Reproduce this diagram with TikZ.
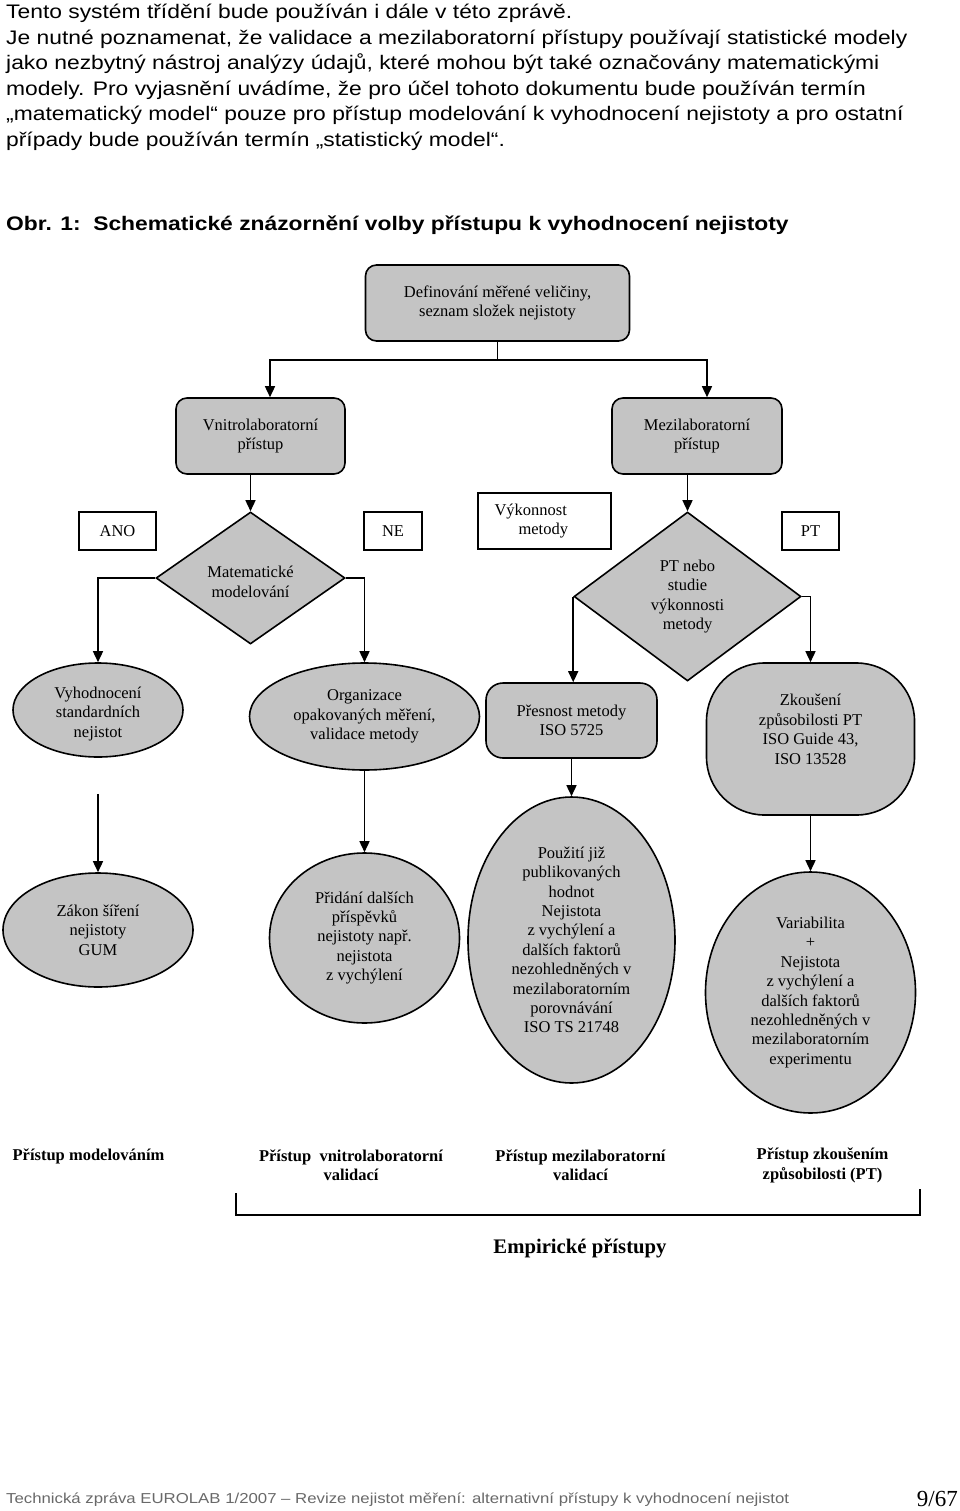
\documentclass[tikz,border=0pt]{standalone}
\usepackage{fontspec}
\setmainfont{Liberation Serif}
\newfontfamily\arialx[FakeStretch=1.165]{Liberation Sans}
\usetikzlibrary{shapes.geometric,arrows.meta}
\definecolor{shapefill}{RGB}{196,196,196}
\definecolor{footgray}{RGB}{105,105,105}
\tikzset{
  every node/.style={font=\fontsize{16.5}{19.4}\selectfont, align=center, inner sep=0pt},
  para/.style={anchor=base west, font=\arialx\fontsize{19.6}{25.5}\selectfont},
  rbox/.style={draw, line width=1.6pt, fill=shapefill, rectangle},
  lbox/.style={draw, line width=1.4pt, fill=white, rectangle},
  oval/.style={draw, line width=1.6pt, fill=shapefill, ellipse},
  dia/.style={draw, line width=1.6pt, fill=shapefill, diamond},
  arr/.style={line width=1.5pt, -{Triangle[length=11pt,width=10pt]}},
  blab/.style={font=\bfseries\fontsize{16.5}{19.4}\selectfont}
}
\begin{document}
\begin{tikzpicture}[x=1pt,y=-1pt]
\fill[white] (0,0) rectangle (960,1511);
\useasboundingbox (0,0) rectangle (960,1511);

% paragraph
\node[para] (t1) at (6,19) {Tento systém třídění bude používán i dále v této zprávě.};
\node[para] (t2) at (6,44.5) {Je nutné poznamenat, že validace a mezilaboratorní přístupy používají statistické modely};
\node[para] (t3) at (6,70) {jako nezbytný nástroj analýzy údajů, které mohou být také označovány matematickými};
\node[para] (t4) at (6,95.5) {modely. Pro vyjasnění uvádíme, že pro účel tohoto dokumentu bude používán termín};
\node[para] (t5) at (6,121) {„matematický model“ pouze pro přístup modelování k vyhodnocení nejistoty a pro ostatní};
\node[para] (t6) at (6,146.5) {případy bude používán termín „statistický model“.};
\node[para, font=\arialx\bfseries\fontsize{19.6}{25.5}\selectfont] (cap) at (6,231) {Obr. 1:\ \ Schematické znázornění volby přístupu k vyhodnocení nejistoty};

% top boxes
\node[rbox, rounded corners=11pt, minimum width=264pt, minimum height=76pt] (def) at (497.5,303) {Definování měřené veličiny,\\seznam složek nejistoty};
\node[rbox, rounded corners=11pt, minimum width=169pt, minimum height=76pt] (vni) at (260.5,436) {Vnitrolaboratorní\\přístup};
\node[rbox, rounded corners=11pt, minimum width=170pt, minimum height=76pt] (mez) at (697,436) {Mezilaboratorní\\přístup};

% label boxes
\node[lbox, minimum width=77pt, minimum height=38pt] (ano) at (117.5,531) {ANO};
\node[lbox, minimum width=58pt, minimum height=38pt] (ne) at (393,531) {NE};
\node[lbox, minimum width=133pt, minimum height=56pt, text width=100pt, inner xsep=16.5pt, align=left] (vyk) at (544.5,521) {Výkonnost\\\hspace*{24pt}metody};
\node[lbox, minimum width=57pt, minimum height=38pt] (ptb) at (810.5,531) {PT};

% diamonds
\node[dia, minimum width=189pt, minimum height=132pt] (mat) at (250.5,578) {\mbox{}\\Matematické\\modelování};
\node[dia, minimum width=227pt, minimum height=169pt] (pt) at (687.5,596.5) {PT nebo\\studie\\výkonnosti\\metody};

% second row
\node[oval, minimum width=170pt, minimum height=94pt] (vyh) at (98,710) {\mbox{}\\Vyhodnocení\\standardních\\nejistot};
\node[oval, minimum width=230pt, minimum height=107pt] (org) at (364.5,716.5) {Organizace\\opakovaných měření,\\validace metody};
\node[rbox, rounded corners=17pt, minimum width=171pt, minimum height=75pt] (pre) at (571.5,720.5) {Přesnost metody\\ISO 5725};
\node[rbox, rounded corners=58pt, minimum width=208pt, minimum height=152pt] (zk) at (810.5,739) {Zkoušení\\způsobilosti PT\\ISO Guide 43,\\ISO 13528\\\mbox{}};

% third row
\node[oval, minimum width=190pt, minimum height=114pt] (zak) at (98,930) {Zákon šíření\\nejistoty\\GUM};
\node[oval, minimum width=190pt, minimum height=170pt] (pri) at (364.5,938) {Přidání dalších\\příspěvků\\nejistoty např.\\nejistota\\z vychýlení};
\node[oval, minimum width=207pt, minimum height=286pt] (pou) at (571.5,940) {Použití již\\publikovaných\\hodnot\\Nejistota\\z vychýlení a\\dalších faktorů\\nezohledněných v\\mezilaboratorním\\porovnávání\\ISO TS 21748};
\node[oval, minimum width=210pt, minimum height=241pt] (var) at (810.5,992.5) {Variabilita\\+\\Nejistota\\z vychýlení a\\dalších faktorů\\nezohledněných v\\mezilaboratorním\\experimentu};

% connectors
\draw[arr] (def.south) -- ++(0,18) -| ([xshift=9.5pt]vni.north);
\draw[arr] (def.south) -- ++(0,18) -| ([xshift=10pt]mez.north);
\draw[arr] (vni.south -| mat.north) -- (mat.north);
\draw[arr] (mez.south -| pt.north) -- (pt.north);
\draw[arr] (mat.west) -| (vyh.north);
\draw[arr] (mat.east) -| (org.north);
\draw[arr] (pt.west) -- (pt.west |- pre.north);
\draw[arr] (pt.east) -| (zk.north);
\draw[arr, shorten <=36pt] (vyh.south) -- (zak.north);
\draw[arr] (org.south) -- (pri.north);
\draw[arr] (pre.south) -- (pou.north);
\draw[arr] (zk.south) -- (var.north);

% bottom labels
\node[blab] (l1) at (88.5,1156) {Přístup modelováním};
\node[blab] (l2) at (351,1165.5) {Přístup\ \ vnitrolaboratorní\\validací};
\node[blab] (l3) at (580.5,1165.5) {Přístup mezilaboratorní\\validací};
\node[blab] (l4) at (822.5,1165.5) {Přístup zkoušením\\způsobilosti (PT)};
\coordinate (bra) at (236,1193);
\coordinate (brb) at (236,1215);
\coordinate (brc) at (920,1215);
\coordinate (brd) at (920,1189);
\draw[line width=2.5pt] (bra) -- (brb) -- (brc) -- (brd);
\node[font=\bfseries\fontsize{20.7}{24}\selectfont] (emp) at (580,1248) {Empirické přístupy};

% footer
\node[anchor=base west, font=\arialx\fontsize{14.4}{17}\selectfont, text=footgray] (foot) at (6,1503) {Technická zpráva EUROLAB 1/2007 – Revize nejistot měření: alternativní přístupy k vyhodnocení nejistot};
\node[anchor=base east, font=\fontsize{23}{26}\selectfont] (pg) at (958,1506) {9/67};
\end{tikzpicture}
\end{document}
